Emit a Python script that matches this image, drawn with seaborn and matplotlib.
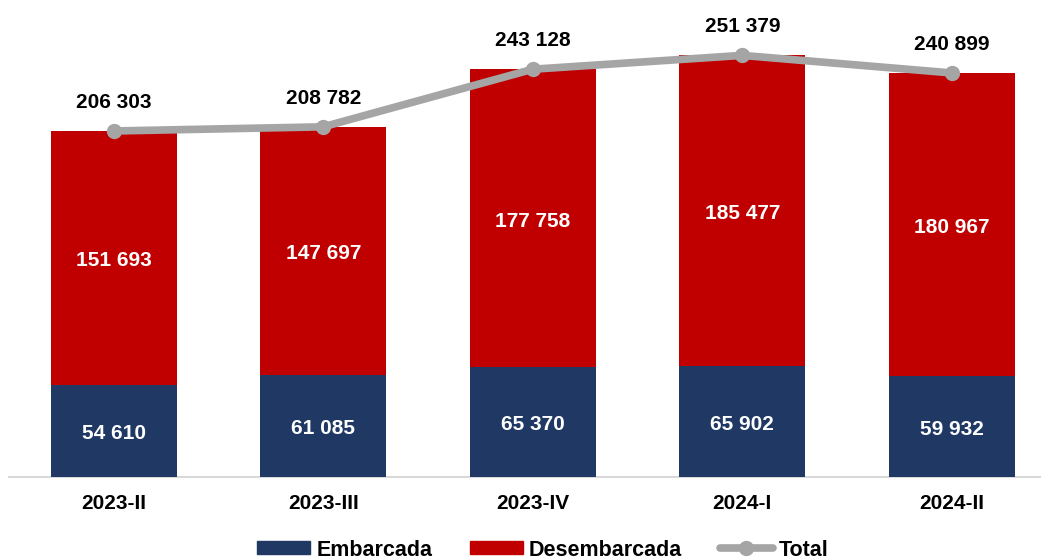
import pandas as pd
import matplotlib.pyplot as plt
import seaborn as sns
from matplotlib.patches import Patch
from matplotlib.lines import Line2D

periods = ["2023-II", "2023-III", "2023-IV", "2024-I", "2024-II"]
embarcada = [54610, 61085, 65370, 65902, 59932]
desembarcada = [151693, 147697, 177758, 185477, 180967]
total = [206303, 208782, 243128, 251379, 240899]

NAVY = "#203864"
RED = "#C00000"
GRAY = "#A5A5A5"

df = pd.DataFrame({
    "period": periods,
    "Embarcada": embarcada,
    "Desembarcada": desembarcada,
    "Total": total,
})
df["stack_top"] = df["Embarcada"] + df["Desembarcada"]

sns.set_style("white")
plt.rcParams["font.family"] = ["Liberation Sans", "DejaVu Sans"]
plt.rcParams["font.weight"] = "bold"

fig = plt.figure(figsize=(10.41, 5.6), dpi=100)
ax = fig.add_axes([9 / 1041, 83 / 560, 1 - 9 / 1041, 477 / 560])

# stacked bars: full height in red, bottom part in navy
sns.barplot(data=df, x="period", y="stack_top", color=RED, width=0.6,
            saturation=1, linewidth=0, ax=ax, zorder=2)
sns.barplot(data=df, x="period", y="Embarcada", color=NAVY, width=0.6,
            saturation=1, linewidth=0, ax=ax, zorder=3)

ax.plot(range(len(periods)), df["Total"], color=GRAY, lw=5.5,
        marker="o", markersize=10, zorder=4, solid_capstyle="round")

def fmt(v):
    return f"{v:,}".replace(",", " ")

for i, row in df.iterrows():
    ax.annotate(fmt(row["Embarcada"]), (i, row["Embarcada"] / 2),
                xytext=(0, -2), textcoords="offset points",
                ha="center", va="center", color="white", fontsize=15, fontweight="bold")
    ax.annotate(fmt(row["Desembarcada"]), (i, row["Embarcada"] + row["Desembarcada"] / 2),
                xytext=(0, -2), textcoords="offset points",
                ha="center", va="center", color="white", fontsize=15, fontweight="bold")
    ax.annotate(fmt(row["Total"]), (i, row["Total"]),
                xytext=(0, 20.5), textcoords="offset points",
                ha="center", va="center", color="black", fontsize=15, fontweight="bold")

ax.set_xlim(-0.5, 4.426)
ax.set_ylim(0, 284400)
ax.set_xlabel("")
ax.set_ylabel("")
ax.set_yticks([])
ax.tick_params(axis="x", length=0, pad=12, labelsize=15, labelcolor="black")
for lbl in ax.get_xticklabels():
    lbl.set_fontweight("bold")
for s in ["top", "left", "right"]:
    ax.spines[s].set_visible(False)
ax.spines["bottom"].set_color("#D9D9D9")
ax.spines["bottom"].set_linewidth(1.5)

handles = [
    Patch(color=NAVY, label="Embarcada"),
    Patch(color=RED, label="Desembarcada"),
    Line2D([0], [0], color=GRAY, lw=5.5, marker="o", markersize=10, label="Total"),
]
leg = fig.legend(handles=handles, loc="center", bbox_to_anchor=(543 / 1041, 1 - 550 / 560),
                 ncol=3, frameon=False, fontsize=15.5, handlelength=2.45, handleheight=0.55,
                 handletextpad=0.3, columnspacing=1.75)
for t in leg.get_texts():
    t.set_fontweight("bold")
    t.set_color("black")

fig.savefig("out.png", dpi=100)
